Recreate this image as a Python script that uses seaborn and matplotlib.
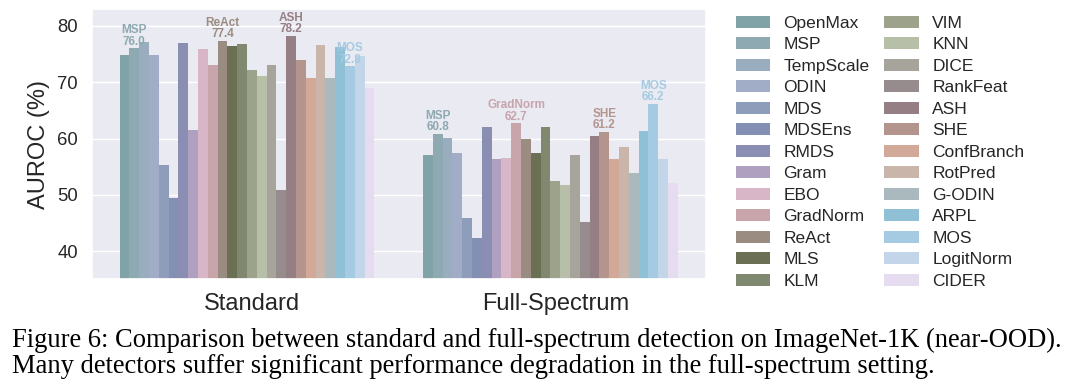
import matplotlib
matplotlib.use("Agg")
import matplotlib.pyplot as plt
from matplotlib.patches import Patch
import seaborn as sns
import pandas as pd

# ---------------- data ----------------
methods = ["OpenMax", "MSP", "TempScale", "ODIN", "MDS", "MDSEns", "RMDS", "Gram",
           "EBO", "GradNorm", "ReAct", "MLS", "KLM", "VIM", "KNN", "DICE",
           "RankFeat", "ASH", "SHE", "ConfBranch", "RotPred", "G-ODIN", "ARPL",
           "MOS", "LogitNorm", "CIDER"]
settings = ["Standard", "Full-Spectrum"]
standard_auroc = [74.8, 76.0, 77.2, 74.8, 55.3, 49.4, 77.0, 61.5, 75.9, 73.1, 77.4,
                  76.4, 76.7, 72.1, 71.1, 73.1, 50.8, 78.2, 73.9, 70.7, 76.6, 70.8,
                  76.3, 72.8, 74.7, 68.9]
fullspectrum_auroc = [57.0, 60.8, 60.1, 57.4, 45.9, 42.3, 62.1, 56.3, 56.5, 62.7, 59.9,
                      57.5, 62.1, 52.4, 51.7, 57.0, 45.2, 60.5, 61.2, 56.3, 58.5, 53.8,
                      61.3, 66.2, 56.3, 52.1]
colors = ["#7fa3a6", "#8ea9b1", "#9aadbf", "#a1adc6", "#8e9dba", "#8390b3", "#8a8eb3",
          "#b0a0c0", "#d9b5c8", "#c8a4ab", "#9b8c82", "#6b7055", "#808870", "#9da38a",
          "#b8bfa8", "#a7a59b", "#978c8d", "#957f84", "#b3958e", "#d2a898", "#c9b5aa",
          "#a9b9bd", "#8fc0d6", "#a5cbe2", "#c3d5e8", "#e6dcf0"]
annotated = {"Standard": ["MSP", "ReAct", "ASH", "MOS"],
             "Full-Spectrum": ["MSP", "GradNorm", "SHE", "MOS"]}
caption_lines = [
    "Figure 6: Comparison between standard and full-spectrum detection on ImageNet-1K (near-OOD).",
    "Many detectors suffer significant performance degradation in the full-spectrum setting.",
]

df = pd.DataFrame({
    "method": methods * 2,
    "setting": [settings[0]] * len(methods) + [settings[1]] * len(methods),
    "auroc": standard_auroc + fullspectrum_auroc,
})

# ---------------- style ----------------
sns.set_theme(style="darkgrid")
plt.rcParams["font.family"] = ["Liberation Sans", "DejaVu Sans"]

fig = plt.figure(figsize=(10.8, 3.88), dpi=100)
ax = fig.add_axes([0.0849, 0.2802, 0.5685, 0.6966])

palette = dict(zip(methods, colors))
group_width = 0.84
sns.barplot(data=df, x="setting", y="auroc", hue="method", order=settings,
            hue_order=methods, palette=palette, width=group_width, saturation=1,
            errorbar=None, linewidth=0, legend=False, ax=ax)

# bars are offset by half a bar width relative to the category tick
bw = group_width / len(methods)
for p in ax.patches:
    p.set_x(p.get_x() - bw / 2)

# annotations
for gi, s in enumerate(settings):
    for m in annotated[s]:
        hi = methods.index(m)
        bar = ax.containers[hi][gi]
        xc = bar.get_x() + bar.get_width() / 2
        h = bar.get_height()
        ax.annotate(f"{m}\n{h:.1f}", xy=(xc, h), xytext=(0, 0.5),
                    textcoords="offset points", ha="center", va="bottom",
                    fontsize=8.5, fontweight="bold", color=palette[m],
                    linespacing=0.92)

ax.set_xlim(-0.528, 1.496)
ax.set_ylim(35, 83)
ax.set_yticks([40, 50, 60, 70, 80])
ax.set_xlabel("")
ax.set_ylabel("AUROC (%)", fontsize=17, labelpad=5)
ax.tick_params(axis="x", labelsize=17, pad=4)
ax.tick_params(axis="y", labelsize=13.3, pad=4)

handles = [Patch(facecolor=palette[m], edgecolor="none", label=m) for m in methods]
fig.legend(handles=handles, ncol=2, loc="upper left",
           bbox_to_anchor=(0.6812, 0.9596), frameon=False, fontsize=12.5,
           handlelength=2.0, handleheight=0.7, handletextpad=0.75,
           columnspacing=0.86, labelspacing=0.365, borderpad=0, borderaxespad=0)

for i, line in enumerate(caption_lines):
    fig.text(11.7 / 1080, 1 - (347.3 + 26 * i) / 388, line,
             family=["Liberation Serif", "DejaVu Serif"], fontsize=19.1,
             va="baseline", ha="left", color="black")

fig.savefig("out.png", dpi=100)
